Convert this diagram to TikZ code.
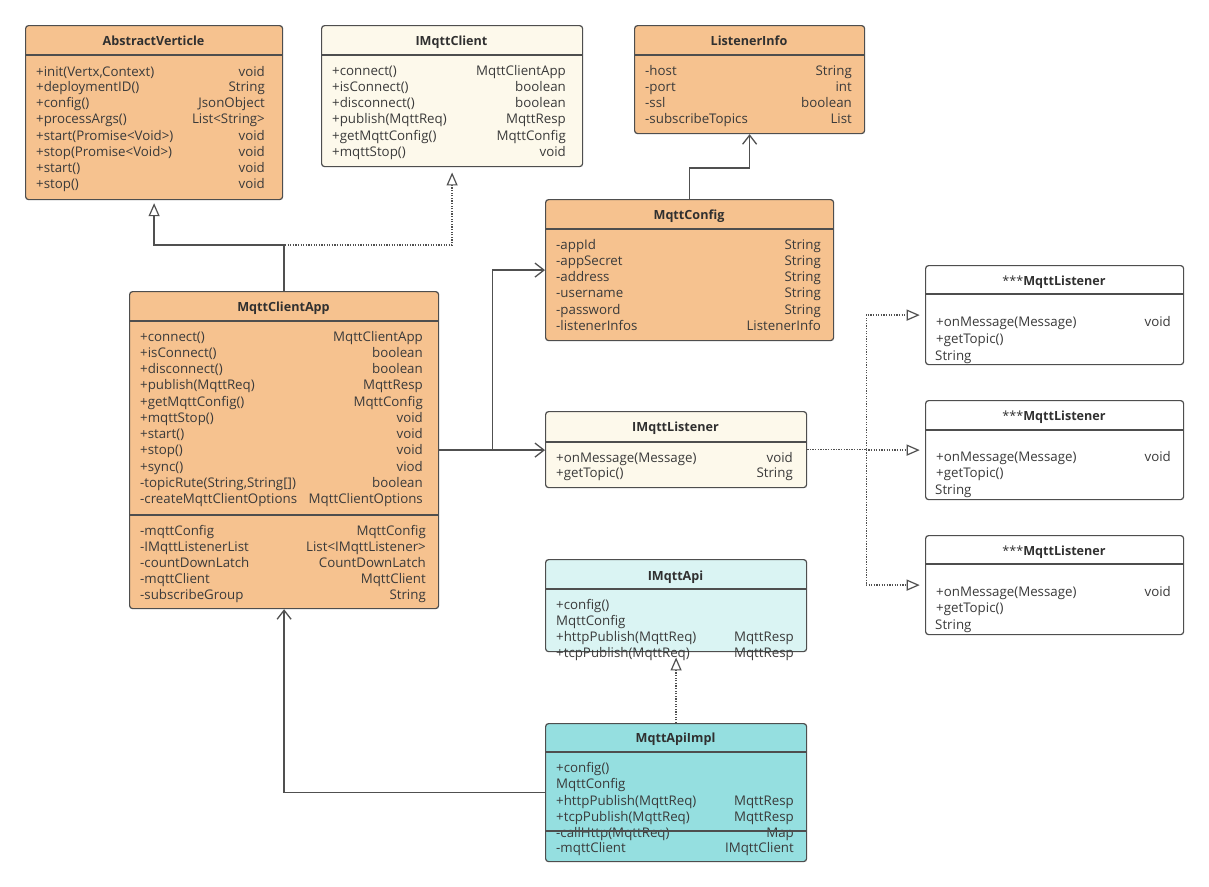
\documentclass[tikz,border=0pt]{standalone}
\usepackage{fontspec}
\setmainfont{Open Sans}
\usetikzlibrary{arrows.meta}
\definecolor{orng}{HTML}{F6C28F}
\definecolor{cream}{HTML}{FDF9EB}
\definecolor{lcyan}{HTML}{DAF4F3}
\definecolor{teal}{HTML}{95DFE0}
\definecolor{bordc}{HTML}{4E4E4E}
\definecolor{linec}{HTML}{505050}
\definecolor{txtc}{HTML}{3A3A3A}
\definecolor{ttlc}{HTML}{303030}
\newcounter{rw}
\newcommand\mrow[5]{\stepcounter{rw}\node[txt,anchor=west] (rl\therw) at (#1,#3) {#4};\node[txt,anchor=east] (rr\therw) at (#2,#3) {#5};}
\newcommand\lrow[3]{\stepcounter{rw}\node[txt,anchor=west] (rl\therw) at (#1,#2) {#3};}
\begin{document}
\begin{tikzpicture}[x=1pt,y=-1pt,
  box/.style={draw=bordc, line width=1.2pt, rounded corners=3pt, anchor=north west, inner sep=0pt},
  sepl/.style={draw=bordc, line width=1.2pt},
  txt/.style={inner sep=0pt, text=txtc, font=\fontsize{13.3}{15}\selectfont, text height=10pt, text depth=0.5pt},
  ttl/.style={txt, text=ttlc, font=\fontsize{12.6}{14}\selectfont\bfseries},
  conn/.style={draw=linec, line width=1.3pt},
  assoc/.style={conn, -{Straight Barb[length=9pt,width=14pt,line width=1.3pt]}},
  inh/.style={conn, -{Triangle[open,length=13pt,width=11pt,line width=1.2pt]}, shorten >=3pt},
  real/.style={conn, line width=1.3pt, dash pattern=on 1.3pt off 1.3pt, -{Triangle[open,length=13pt,width=11pt,line width=1.2pt,sep]}, shorten >=4pt},
]
\useasboundingbox (0,0) rectangle (1209,886);
\fill[white] (0,0) rectangle (1209,886);

% ---------- boxes ----------
\node[box, fill=orng, minimum width=257pt, minimum height=174pt] (av) at (25,25) {};
\node[box, fill=cream, minimum width=261pt, minimum height=141pt] (imc) at (321,25) {};
\node[box, fill=orng, minimum width=230pt, minimum height=108pt] (li) at (634,25) {};
\node[box, fill=orng, minimum width=288pt, minimum height=141pt] (mc) at (545,199) {};
\node[box, fill=orng, minimum width=309pt, minimum height=317pt] (mca) at (129,291) {};
\node[box, fill=cream, minimum width=261pt, minimum height=76pt] (iml) at (545,411) {};
\node[box, fill=lcyan, minimum width=261pt, minimum height=92pt] (ima) at (545,559) {};
\node[box, fill=teal, minimum width=261pt, minimum height=138pt] (mai) at (545,723) {};
\node[box, fill=white, minimum width=258pt, minimum height=99pt] (ml1) at (925,265) {};
\node[box, fill=white, minimum width=258pt, minimum height=99pt] (ml2) at (925,400) {};
\node[box, fill=white, minimum width=258pt, minimum height=99pt] (ml3) at (925,535) {};

% ---------- separators ----------
\draw[sepl] (25,55) -- (282,55);
\draw[sepl] (321,55) -- (582,55);
\draw[sepl] (634,55) -- (864,55);
\draw[sepl] (545,229) -- (833,229);
\draw[sepl] (129,321) -- (438,321);
\draw[sepl] (129,515) -- (438,515);
\draw[sepl] (545,442) -- (806,442);
\draw[sepl] (545,589) -- (806,589);
\draw[sepl] (545,752) -- (806,752);
\draw[sepl] (925,294) -- (1183,294);
\draw[sepl] (925,430) -- (1183,430);
\draw[sepl] (925,564) -- (1183,564);

% ---------- titles ----------
\node[ttl] (tav) at (153.5,41) {AbstractVerticle};
\node[ttl] (timc) at (451.5,41) {IMqttClient};
\node[ttl] (tli) at (749,41) {ListenerInfo};
\node[ttl] (tmc) at (689,215) {MqttConfig};
\node[ttl] (tmca) at (283.5,307) {MqttClientApp};
\node[ttl] (timl) at (675.5,427) {IMqttListener};
\node[ttl] (tima) at (675.5,576) {IMqttApi};
\node[ttl] (tmai) at (675.5,738) {MqttApiImpl};
\node[ttl] (tml1) at (1054,281) {\mdseries***\bfseries MqttListener};
\node[ttl] (tml2) at (1054,416) {\mdseries***\bfseries MqttListener};
\node[ttl] (tml3) at (1054,551) {\mdseries***\bfseries MqttListener};

% ---------- AbstractVerticle ----------
\mrow{36}{265}{72}{+init(Vertx,Context)}{void}
\mrow{36}{265}{87}{+deploymentID()}{String}
\mrow{36}{265}{103}{+config()}{JsonObject}
\mrow{36}{265}{119}{+processArgs()}{List<String>}
\mrow{36}{265}{136}{+start(Promise<Void>)}{void}
\mrow{36}{265}{152}{+stop(Promise<Void>)}{void}
\mrow{36}{265}{168}{+start()}{void}
\mrow{36}{265}{184}{+stop()}{void}

% ---------- IMqttClient ----------
\mrow{332}{566}{71}{+connect()}{MqttClientApp}
\mrow{332}{566}{87}{+isConnect()}{boolean}
\mrow{332}{566}{103}{+disconnect()}{boolean}
\mrow{332}{566}{119}{+publish(MqttReq)}{MqttResp}
\mrow{332}{566}{136}{+getMqttConfig()}{MqttConfig}
\mrow{332}{566}{152}{+mqttStop()}{void}

% ---------- ListenerInfo ----------
\mrow{645}{852}{71}{-host}{String}
\mrow{645}{852}{87}{-port}{int}
\mrow{645}{852}{103}{-ssl}{boolean}
\mrow{645}{852}{119}{-subscribeTopics}{List}

% ---------- MqttConfig ----------
\mrow{556}{821}{245}{-appId}{String}
\mrow{556}{821}{261}{-appSecret}{String}
\mrow{556}{821}{277}{-address}{String}
\mrow{556}{821}{293}{-username}{String}
\mrow{556}{821}{310}{-password}{String}
\mrow{556}{821}{326}{-listenerInfos}{ListenerInfo}

% ---------- MqttClientApp ----------
\mrow{140}{423}{337}{+connect()}{MqttClientApp}
\mrow{140}{423}{353}{+isConnect()}{boolean}
\mrow{140}{423}{369}{+disconnect()}{boolean}
\mrow{140}{423}{385}{+publish(MqttReq)}{MqttResp}
\mrow{140}{423}{402}{+getMqttConfig()}{MqttConfig}
\mrow{140}{423}{418}{+mqttStop()}{void}
\mrow{140}{423}{434}{+start()}{void}
\mrow{140}{423}{450}{+stop()}{void}
\mrow{140}{423}{467}{+sync()}{viod}
\mrow{140}{423}{483}{-topicRute(String,String[])}{boolean}
\mrow{140}{423}{499}{-createMqttClientOptions}{MqttClientOptions}
\mrow{140}{426}{531}{-mqttConfig}{MqttConfig}
\mrow{140}{426}{547}{-IMqttListenerList}{List<IMqttListener>}
\mrow{140}{426}{563}{-countDownLatch}{CountDownLatch}
\mrow{140}{426}{579}{-mqttClient}{MqttClient}
\mrow{140}{426}{595}{-subscribeGroup}{String}

% ---------- IMqttListener ----------
\mrow{556}{793}{458}{+onMessage(Message)}{void}
\mrow{556}{793}{473}{+getTopic()}{String}

% ---------- IMqttApi ----------
\lrow{556}{605}{+config()}
\lrow{556}{621}{MqttConfig}
\mrow{556}{794}{637}{+httpPublish(MqttReq)}{MqttResp}
\mrow{556}{794}{653}{+tcpPublish(MqttReq)}{MqttResp}

% ---------- MqttApiImpl ----------
\lrow{556}{768}{+config()}
\lrow{556}{784}{MqttConfig}
\mrow{556}{794}{801}{+httpPublish(MqttReq)}{MqttResp}
\mrow{556}{794}{817}{+tcpPublish(MqttReq)}{MqttResp}
\mrow{556}{794}{833}{-callHttp(MqttReq)}{Map}
\mrow{556}{794}{848}{-mqttClient}{IMqttClient}
\draw[sepl] (545,831) -- (806,831);

% ---------- MqttListeners ----------
\mrow{936}{1171}{322}{+onMessage(Message)}{void}
\lrow{936}{339}{+getTopic()}
\lrow{935}{356}{String}
\mrow{936}{1171}{457}{+onMessage(Message)}{void}
\lrow{936}{473}{+getTopic()}
\lrow{935}{490}{String}
\mrow{936}{1171}{592}{+onMessage(Message)}{void}
\lrow{936}{608}{+getTopic()}
\lrow{935}{625}{String}

% ---------- connectors ----------
\draw[real] (mca.north) -- ++(0,-46) -| (imc.south);
\draw[inh] (mca.north) -- ++(0,-46) -| (av.south);
\draw[assoc] (mc.north) -- ++(0,-31) -| (li.south);
\draw[assoc] (mca.east) -- ++(53,0) |- (mc.west);
\draw[assoc] (mca.east) -- (mca.east -| iml.west);
\path (iml.east) ++(59,0) coordinate (j);
\draw[real] (iml.east) -- (j) |- (ml1.west);
\draw[real] (j) |- (ml2.west);
\draw[real] (j) |- (ml3.west);
\draw[real] (mai.north) -- (ima.south);
\draw[assoc] (mai.west) -| (mca.south);
\end{tikzpicture}
\end{document}
